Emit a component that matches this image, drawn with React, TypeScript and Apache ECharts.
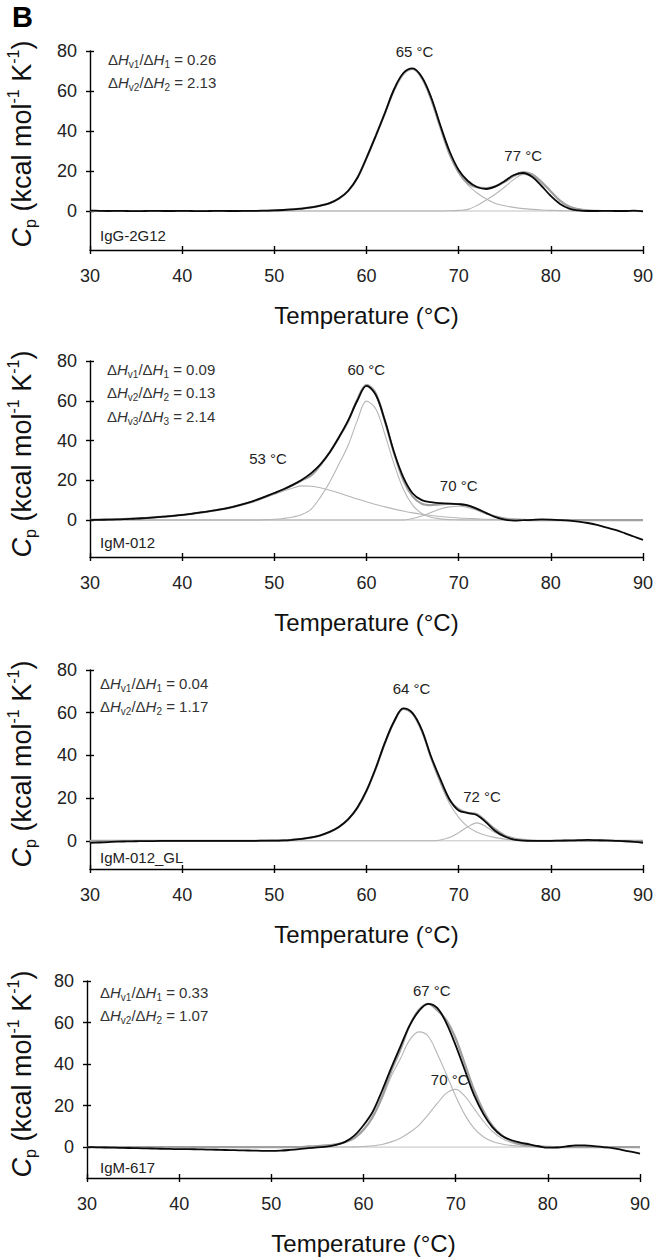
import React, { useEffect, useRef } from "react";
import * as echarts from "echarts";

// ---------------- data ----------------
const temps = [
  30, 31, 32, 33, 34, 35, 36, 37, 38, 39,
  40, 41, 42, 43, 44, 45, 46, 47, 48, 49,
  50, 51, 52, 53, 54, 55, 56, 57, 58, 59,
  60, 61, 62, 63, 64, 65, 66, 67, 68, 69,
  70, 71, 72, 73, 74, 75, 76, 77, 78, 79,
  80, 81, 82, 83, 84, 85, 86, 87, 88, 89,
  90,
];
const yTicks = [0, 20, 40, 60, 80];

// IgG-2G12
const igg2g12Measured = [
  0.2, 0.1, 0, 0.1, 0, -0.1, 0, 0.1, 0, 0,
  0.1, 0, -0.1, 0, 0.1, 0, 0, 0.1, 0.1, 0.2,
  0.3, 0.5, 0.8, 1.2, 1.8, 2.7, 3.9, 6.2, 10, 16.5,
  26.5, 37.5, 49, 61, 69, 71.3, 67, 57, 43, 30,
  20.5, 15, 12, 11, 12.3, 15, 18, 19, 17, 12.5,
  7.5, 3.5, 1.2, 0.3, 0, 0, 0.1, 0, 0, 0.2,
  -0.2,
];
const igg2g12Comp65 = [
  0, 0, 0, 0, 0, 0, 0, 0, 0, 0,
  0, 0, 0, 0, 0, 0, 0, 0, 0.1, 0.2,
  0.3, 0.5, 0.8, 1.2, 1.8, 2.7, 3.9, 6.2, 10, 16.5,
  26.5, 37.5, 49, 60.5, 68.5, 71, 66.5, 56, 42, 28.5,
  19, 13, 9, 6, 3.8, 2.6, 1.8, 1.2, 0.8, 0.5,
  0.3, 0.2, 0.1, 0, 0, 0, 0, 0, 0, 0,
  0,
];
const igg2g12Comp77 = [
  0, 0, 0, 0, 0, 0, 0, 0, 0, 0,
  0, 0, 0, 0, 0, 0, 0, 0, 0, 0,
  0, 0, 0, 0, 0, 0, 0, 0, 0, 0,
  0, 0, 0, 0, 0, 0, 0, 0, 0, 0.1,
  0.3, 0.8, 2.8, 5.5, 8.5, 12, 15.8, 18.3, 17.5, 14,
  9.5, 5, 2.1, 0.9, 0.3, 0.1, 0, 0, 0, 0,
  0,
];
const igg2g12Fit = [
  0, 0, 0, 0, 0, 0, 0, 0, 0, 0,
  0, 0, 0, 0, 0, 0, 0, 0, 0, 0,
  0.3, 0.5, 0.8, 1.2, 1.8, 2.7, 3.9, 6.2, 10, 16.5,
  26.5, 37.5, 49, 60.5, 68.5, 71, 66.5, 56, 42, 28.6,
  19.3, 13.8, 11.8, 11.5, 12.3, 14.6, 17.6, 19.5, 18.3, 14.5,
  9.8, 5.2, 2.2, 0.9, 0.3, 0.1, 0, 0, 0, 0,
  0,
];
const igg2g12PeakT = [65, 77];
const igg2g12PeakCp = [71.3, 19];
const igg2g12PeakNames = ["65 °C", "77 °C"];
const igg2g12Ratios = ["0.26", "2.13"];

// IgM-012
const igm012Measured = [
  0, 0.1, 0.2, 0.3, 0.5, 0.7, 1.0, 1.3, 1.7, 2.1,
  2.6, 3.1, 3.8, 4.5, 5.2, 6.1, 7.2, 8.5, 10, 11.8,
  13.6, 15.5, 17.7, 20.3, 23.6, 28, 34, 41.5, 50, 60,
  67.5, 63, 50, 34, 21.5, 13.5, 10, 9, 8.5, 8.2,
  8, 7.4, 5.6, 3.5, 1.5, 0.2, -0.3, -0.1, 0.1, 0.3,
  0.2, 0, -0.3, -0.8, -1.5, -2.5, -3.7, -5, -6.6, -8.3,
  -10,
];
const igm012Comp53 = [
  0.1, 0.2, 0.3, 0.4, 0.6, 0.8, 1.0, 1.3, 1.7, 2.1,
  2.6, 3.1, 3.7, 4.4, 5.2, 6, 7.1, 8.4, 9.8, 11.4,
  13, 14.6, 16.1, 17.2, 17, 16.2, 15, 13.6, 12.1, 10.6,
  9.2, 7.8, 6.6, 5.5, 4.5, 3.6, 2.9, 2.3, 1.8, 1.4,
  1, 0.8, 0.6, 0.4, 0.3, 0.2, 0.1, 0, 0, 0,
  0, 0, 0, 0, 0, 0, 0, 0, 0, 0,
  0,
];
const igm012Comp60 = [
  0, 0, 0, 0, 0, 0, 0, 0, 0, 0,
  0, 0, 0, 0, 0, 0, 0, 0, 0, 0.2,
  0.4, 0.8, 1.5, 2.8, 5.5, 11.5, 19, 28, 37.5, 50,
  59.8, 56, 43, 28, 15.5, 7.5, 3.3, 1.4, 0.6, 0.2,
  0.1, 0, 0, 0, 0, 0, 0, 0, 0, 0,
  0, 0, 0, 0, 0, 0, 0, 0, 0, 0,
  0,
];
const igm012Comp70 = [
  0, 0, 0, 0, 0, 0, 0, 0, 0, 0,
  0, 0, 0, 0, 0, 0, 0, 0, 0, 0,
  0, 0, 0, 0, 0, 0, 0, 0, 0, 0,
  0, 0, 0, 0, 0, 0.8, 2, 3.8, 5.5, 6.6,
  6.9, 6.3, 4.8, 3, 1.4, 0.5, 0.2, 0, 0, 0,
  0, 0, 0, 0, 0, 0, 0, 0, 0, 0,
  0,
];
const igm012Fit = [
  0.1, 0.2, 0.3, 0.4, 0.6, 0.8, 1.0, 1.3, 1.7, 2.1,
  2.6, 3.1, 3.7, 4.4, 5.2, 6, 7.1, 8.4, 9.8, 11.6,
  13.4, 15.4, 17.6, 20, 22.5, 27.7, 34, 41.6, 49.6, 60.6,
  68, 63.8, 49.6, 33.5, 20, 11.9, 8.2, 7.5, 7.9, 8.2,
  8, 7.1, 5.4, 3.4, 1.7, 0.7, 0.3, 0.1, 0, 0,
  0, 0, 0, 0, 0, 0, 0, 0, 0, 0,
  0,
];
const igm012PeakT = [60.2, 53, 70];
const igm012PeakCp = [67.8, 17.2, 6.9];
const igm012PeakNames = ["60 °C", "53 °C", "70 °C"];
const igm012Ratios = ["0.09", "0.13", "2.14"];

// IgM-012_GL
const igm012glMeasured = [
  -1, -0.8, -0.6, -0.4, -0.3, -0.2, -0.1, -0.1, 0, 0,
  0, 0, 0, 0, 0, 0, 0, 0, 0, 0.1,
  0.1, 0.2, 0.5, 0.9, 1.6, 2.6, 4.2, 6.5, 10, 15.5,
  23.5, 34, 46, 56, 62, 59.8, 52, 39.5, 29, 19.5,
  14.2, 13, 12, 8.5, 4.5, 2, 0.6, 0.1, 0, 0,
  0, 0.1, 0.2, 0.3, 0.4, 0.3, 0.2, 0, -0.2, -0.5,
  -0.9,
];
const igm012glComp64 = [
  0, 0, 0, 0, 0, 0, 0, 0, 0, 0,
  0, 0, 0, 0, 0, 0, 0, 0, 0, 0,
  0.1, 0.2, 0.5, 0.9, 1.5, 2.5, 4.1, 6.4, 10, 15.3,
  23.3, 33.8, 45.8, 55.8, 61.8, 59.5, 51.5, 39, 27.5, 17.5,
  11, 6.5, 4, 2.5, 1.5, 0.8, 0.4, 0.2, 0.1, 0,
  0, 0, 0, 0, 0, 0, 0, 0, 0, 0,
  0,
];
const igm012glComp72 = [
  0, 0, 0, 0, 0, 0, 0, 0, 0, 0,
  0, 0, 0, 0, 0, 0, 0, 0, 0, 0,
  0, 0, 0, 0, 0, 0, 0, 0, 0, 0,
  0, 0, 0, 0, 0, 0, 0, 0, 0.4, 1.5,
  3.8, 6.6, 8.4, 6.5, 3.8, 1.7, 0.7, 0.2, 0, 0,
  0, 0, 0, 0, 0, 0, 0, 0, 0, 0,
  0,
];
const igm012glFit = [
  0, 0, 0, 0, 0, 0, 0, 0, 0, 0,
  0, 0, 0, 0, 0, 0, 0, 0, 0, 0,
  0.1, 0.2, 0.5, 0.9, 1.5, 2.5, 4.1, 6.4, 10, 15.3,
  23.3, 33.8, 45.8, 55.8, 61.8, 59.5, 51.5, 39, 27.9, 19,
  14.8, 13.1, 12.4, 9, 5.3, 2.5, 1.1, 0.4, 0.1, 0,
  0, 0, 0, 0, 0, 0, 0, 0, 0, 0,
  0,
];
const igm012glPeakT = [64.35, 72];
const igm012glPeakCp = [62.3, 8.6];
const igm012glPeakNames = ["64 °C", "72 °C"];
const igm012glRatios = ["0.04", "1.17"];

// IgM-617
const igm617Measured = [
  0, -0.1, -0.2, -0.3, -0.4, -0.5, -0.6, -0.7, -0.8, -0.9,
  -1, -1, -1.1, -1.2, -1.3, -1.4, -1.5, -1.6, -1.7, -1.8,
  -1.8, -1.7, -1.4, -1, -0.5, -0.1, 0.2, 1, 2.5, 5.5,
  10.5, 17, 27, 38, 48.4, 58.5, 65.5, 69, 67, 59.6,
  49, 37, 25, 16, 9.5, 5.5, 3.4, 2.2, 1.3, 0.4,
  -0.3, -0.2, 0.3, 0.8, 0.8, 0.5, 0, -0.5, -1.3, -2.2,
  -3.2,
];
const igm617Comp66 = [
  0, 0, 0, 0, 0, 0, 0, 0, 0, 0,
  0, 0, 0, 0, 0, 0, 0, 0, 0, 0,
  0, 0, 0, 0, 0.3, 0.5, 0.8, 1.3, 2.3, 4.2,
  8, 14, 23, 34, 42.5, 51.5, 55.5, 53.5, 45, 35,
  24.5, 15.5, 9, 5, 2.7, 1.5, 0.8, 0.4, 0.2, 0.1,
  0, 0, 0, 0, 0, 0, 0, 0, 0, 0,
  0,
];
const igm617Comp70 = [
  0, 0, 0, 0, 0, 0, 0, 0, 0, 0,
  0, 0, 0, 0, 0, 0, 0, 0, 0, 0,
  0, 0, 0, 0, 0, 0, 0, 0, 0, 0.1,
  0.3, 0.6, 1.2, 2.5, 4.3, 7, 10.5, 15.5, 21, 26,
  27.8, 24.5, 18.5, 12.5, 7.5, 4.2, 2.2, 1, 0.5, 0.2,
  0.1, 0, 0, 0, 0, 0, 0, 0, 0, 0,
  0,
];
const igm617Fit = [
  0, 0, 0, 0, 0, 0, 0, 0, 0, 0,
  0, 0, 0, 0, 0, 0, 0, 0, 0, 0,
  0, 0, 0, 0, 0.3, 0.5, 0.8, 1.3, 2.3, 4.3,
  8.3, 14.6, 24.2, 36.5, 46.8, 58.5, 66, 69, 66, 61,
  52.3, 40, 27.5, 17.5, 10.2, 5.7, 3, 1.4, 0.7, 0.3,
  0.1, 0, 0, 0, 0, 0, 0, 0, 0, 0,
  0,
];
const igm617PeakT = [67.3, 70];
const igm617PeakCp = [69.3, 27.8];
const igm617PeakNames = ["67 °C", "70 °C"];
const igm617Ratios = ["0.33", "1.07"];

// ---------------- layout / style ----------------
const FONT = "'Liberation Sans', Arial, Helvetica, sans-serif";

const panels = [
  {
    sample: "IgG-2G12",
    measured: igg2g12Measured,
    comps: [igg2g12Comp65, igg2g12Comp77],
    fit: igg2g12Fit,
    peakT: igg2g12PeakT,
    peakCp: igg2g12PeakCp,
    peakNames: igg2g12PeakNames,
    ratios: igg2g12Ratios,
    grid: { left: 90, top: 51, width: 553, height: 199 },
    yMin: -19.5,
    labelOffsets: [[2, -9], [0, -10]],
    ratioPos: [108, 59],
    samplePos: [100, 235],
    titleY: 144,
  },
  {
    sample: "IgM-012",
    measured: igm012Measured,
    comps: [igm012Comp53, igm012Comp60, igm012Comp70],
    fit: igm012Fit,
    peakT: igm012PeakT,
    peakCp: igm012PeakCp,
    peakNames: igm012PeakNames,
    ratios: igm012Ratios,
    grid: { left: 90, top: 361, width: 553, height: 196 },
    yMin: -18.6,
    labelOffsets: [[-2, -8], [-34, -19], [0, -13]],
    ratioPos: [107, 369],
    samplePos: [100, 542],
    titleY: 454,
  },
  {
    sample: "IgM-012_GL",
    measured: igm012glMeasured,
    comps: [igm012glComp64, igm012glComp72],
    fit: igm012glFit,
    peakT: igm012glPeakT,
    peakCp: igm012glPeakCp,
    peakNames: igm012glPeakNames,
    ratios: igm012glRatios,
    grid: { left: 90, top: 670, width: 553, height: 199 },
    yMin: -13.2,
    labelOffsets: [[5, -11], [5, -18]],
    ratioPos: [100, 683],
    samplePos: [100, 857],
    titleY: 764,
  },
  {
    sample: "IgM-617",
    measured: igm617Measured,
    comps: [igm617Comp66, igm617Comp70],
    fit: igm617Fit,
    peakT: igm617PeakT,
    peakCp: igm617PeakCp,
    peakNames: igm617PeakNames,
    ratios: igm617Ratios,
    grid: { left: 87, top: 981, width: 553, height: 197 },
    yMin: -14.9,
    labelOffsets: [[1, -4.5], [-6, -2]],
    ratioPos: [100, 992],
    samplePos: [100, 1167],
    titleY: 1074,
  },
];

const pts = (vals: number[]) => temps.map((t, k) => [t, vals[k]]);

function buildOption() {
  const grids: any[] = [];
  const xAxes: any[] = [];
  const yAxes: any[] = [];
  const series: any[] = [];
  const graphics: any[] = [];

  const axisLineStyle = { color: "#000", width: 1.4 };

  panels.forEach((p, i) => {
    grids.push({ ...p.grid, containLabel: false, outerBoundsMode: "none" });
    xAxes.push({
      type: "value",
      gridIndex: i,
      position: "bottom",
      min: 30,
      max: 90,
      interval: 10,
      axisLine: { show: true, onZero: false, lineStyle: axisLineStyle },
      axisTick: { show: true, length: 4, lineStyle: axisLineStyle },
      axisLabel: {
        show: true,
        fontSize: 18,
        fontFamily: FONT,
        color: "#222",
        margin: 17,
        showMinLabel: true,
        showMaxLabel: true,
      },
      splitLine: { show: false },
      name: "Temperature (°C)",
      nameLocation: "middle",
      nameGap: 53,
      nameTextStyle: { fontSize: 24, fontFamily: FONT, color: "#111" },
    });
    xAxes.push({
      type: "value",
      gridIndex: i,
      position: "bottom",
      offset: 0,
      min: 30,
      max: 90,
      interval: 10,
      axisLine: { show: false, onZero: false },
      axisTick: { show: true, inside: true, length: 4, lineStyle: axisLineStyle },
      axisLabel: { show: false },
      splitLine: { show: false },
    });
    yAxes.push({
      type: "value",
      gridIndex: i,
      position: "left",
      min: p.yMin,
      max: 80,
      axisLine: { show: true, onZero: false, lineStyle: axisLineStyle },
      axisTick: { show: true, length: 4, lineStyle: axisLineStyle, customValues: yTicks },
      axisLabel: {
        show: true,
        fontSize: 18,
        fontFamily: FONT,
        color: "#222",
        margin: 13,
        customValues: yTicks,
      },
      splitLine: { show: false },
    });
    yAxes.push({
      type: "value",
      gridIndex: i,
      position: "left",
      offset: 0,
      min: p.yMin,
      max: 80,
      axisLine: { show: false, onZero: false },
      axisTick: {
        show: true,
        inside: true,
        length: 4,
        lineStyle: axisLineStyle,
        customValues: yTicks,
      },
      axisLabel: { show: false },
      splitLine: { show: false },
    });

    const xi = 2 * i;
    const yi = 2 * i;
    series.push({
      type: "line",
      xAxisIndex: xi,
      yAxisIndex: yi,
      data: [
        [30, 0],
        [90, 0],
      ],
      symbol: "none",
      silent: true,
      lineStyle: { color: "#c2c2c2", width: 1 },
      z: 1,
    });
    p.comps.forEach((c) => {
      series.push({
        type: "line",
        xAxisIndex: xi,
        yAxisIndex: yi,
        data: pts(c),
        smooth: 0.35,
        symbol: "none",
        silent: true,
        lineStyle: { color: "#b6b6b6", width: 1.1 },
        z: 2,
      });
    });
    series.push({
      type: "line",
      xAxisIndex: xi,
      yAxisIndex: yi,
      data: pts(p.fit),
      smooth: 0.35,
      symbol: "none",
      silent: true,
      lineStyle: { color: "#a0a0a0", width: 2.2 },
      z: 3,
    });
    series.push({
      type: "line",
      xAxisIndex: xi,
      yAxisIndex: yi,
      data: pts(p.measured),
      smooth: 0.35,
      symbol: "none",
      silent: true,
      lineStyle: { color: "#0a0a0a", width: 1.8 },
      z: 4,
    });
    series.push({
      type: "scatter",
      xAxisIndex: xi,
      yAxisIndex: yi,
      symbol: "circle",
      symbolSize: 1,
      itemStyle: { color: "rgba(255,255,255,0)", opacity: 1 },
      silent: true,
      z: 5,
      label: {
        show: true,
        position: "top",
        distance: 0,
        fontSize: 15,
        fontFamily: FONT,
        color: "#222",
        opacity: 1,
        textBorderWidth: 0,
        formatter: (prm: any) => prm.name,
      },
      data: p.peakT.map((t, k) => ({
        value: [t, p.peakCp[k]],
        name: p.peakNames[k],
        label: { offset: p.labelOffsets[k] },
      })),
    });

    graphics.push({
      type: "text",
      x: 22,
      y: p.titleY,
      rotation: Math.PI / 2,
      style: {
        text: "{ci|C}{sub|p}{n| (kcal mol}{sup|-1}{n| K}{sup|-1}{n|)}",
        align: "center",
        verticalAlign: "middle",
        rich: {
          ci: { fontSize: 27, fontStyle: "italic", fontFamily: FONT, fill: "#111", lineHeight: 33 },
          n: { fontSize: 27, fontFamily: FONT, fill: "#111", lineHeight: 33 },
          sub: { fontSize: 16, fontFamily: FONT, fill: "#111", lineHeight: 15, verticalAlign: "bottom" },
          sup: { fontSize: 16, fontFamily: FONT, fill: "#111", lineHeight: 15, verticalAlign: "top" },
        },
      },
    });
    p.ratios.forEach((r, k) => {
      const idx = k + 1;
      graphics.push({
        type: "text",
        x: p.ratioPos[0],
        y: p.ratioPos[1] + k * 23.5,
        style: {
          text: `{d|Δ}{i|H}{s|v${idx}}{d|/Δ}{i|H}{s|${idx}}{d| = ${r}}`,
          align: "left",
          verticalAlign: "middle",
          rich: {
            d: { fontSize: 15, fontFamily: FONT, fill: "#333", lineHeight: 20 },
            i: { fontSize: 15, fontFamily: FONT, fontStyle: "italic", fill: "#333", lineHeight: 20 },
            s: { fontSize: 10, fontFamily: FONT, fill: "#333", lineHeight: 10, verticalAlign: "bottom" },
          },
        },
      });
    });
    graphics.push({
      type: "text",
      x: p.samplePos[0],
      y: p.samplePos[1],
      style: {
        text: p.sample,
        fontSize: 15,
        fontFamily: FONT,
        fill: "#222",
        align: "left",
        verticalAlign: "middle",
      },
    });
  });

  graphics.push({
    type: "text",
    x: 12,
    y: 17,
    style: {
      text: "B",
      fontSize: 29,
      fontWeight: "bold",
      fontFamily: FONT,
      fill: "#000",
      align: "left",
      verticalAlign: "middle",
    },
  });

  return {
    animation: false,
    backgroundColor: "#fff",
    grid: grids,
    xAxis: xAxes,
    yAxis: yAxes,
    series,
    graphic: graphics,
  };
}

export default function App() {
  const ref = useRef<HTMLDivElement>(null);
  useEffect(() => {
    if (!ref.current) return;
    const chart = echarts.init(ref.current, null, { renderer: "svg" });
    chart.setOption(buildOption() as any);
    return () => chart.dispose();
  }, []);
  return (
    <div
      ref={ref}
      style={{ position: "absolute", left: 0, top: 0, width: 655, height: 1258, background: "#fff" }}
    />
  );
}
